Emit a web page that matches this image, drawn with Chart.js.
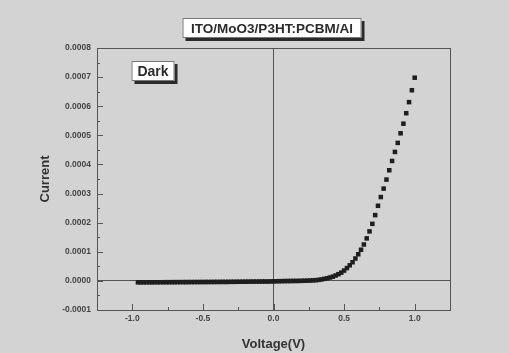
<!DOCTYPE html>
<html lang="en">
<head>
    <meta charset="UTF-8">
    <title>ITO/MoO3/P3HT:PCBM/Al</title>
    <script src="https://cdn.jsdelivr.net/npm/chart.js"></script>
    <style>
        html, body { margin: 0; padding: 0; background: #d3d3d3; }
        #chart { display: block; }
    </style>
</head>
<body>
    <canvas id="chart" width="509" height="353"></canvas>
    <script>
        const title = 'ITO/MoO3/P3HT:PCBM/Al';
        const tag = 'Dark';

        const voltage = [
            -0.96, -0.94, -0.92, -0.90, -0.88, -0.86, -0.84, -0.82, -0.80, -0.78,
            -0.76, -0.74, -0.72, -0.70, -0.68, -0.66, -0.64, -0.62, -0.60, -0.58,
            -0.56, -0.54, -0.52, -0.50, -0.48, -0.46, -0.44, -0.42, -0.40, -0.38,
            -0.36, -0.34, -0.32, -0.30, -0.28, -0.26, -0.24, -0.22, -0.20, -0.18,
            -0.16, -0.14, -0.12, -0.10, -0.08, -0.06, -0.04, -0.02, 0.00, 0.02,
            0.04, 0.06, 0.08, 0.10, 0.12, 0.14, 0.16, 0.18, 0.20, 0.22,
            0.24, 0.26, 0.28, 0.30, 0.32, 0.34, 0.36, 0.38, 0.40, 0.42,
            0.44, 0.46, 0.48, 0.50, 0.52, 0.54, 0.56, 0.58, 0.60, 0.62,
            0.64, 0.66, 0.68, 0.70, 0.72, 0.74, 0.76, 0.78, 0.80, 0.82,
            0.84, 0.86, 0.88, 0.90, 0.92, 0.94, 0.96, 0.98, 1.00
        ];
        // current in A
        const current = [
            -0.0000050, -0.0000050, -0.0000049, -0.0000049, -0.0000048, -0.0000048, -0.0000047, -0.0000047, -0.0000046, -0.0000046,
            -0.0000045, -0.0000045, -0.0000044, -0.0000044, -0.0000043, -0.0000043, -0.0000042, -0.0000042, -0.0000041, -0.0000041,
            -0.0000040, -0.0000040, -0.0000039, -0.0000039, -0.0000038, -0.0000038, -0.0000037, -0.0000037, -0.0000036, -0.0000036,
            -0.0000035, -0.0000035, -0.0000034, -0.0000033, -0.0000032, -0.0000031, -0.0000030, -0.0000029, -0.0000028, -0.0000027,
            -0.0000026, -0.0000025, -0.0000024, -0.0000023, -0.0000022, -0.0000021, -0.0000020, -0.0000018, -0.0000015, -0.0000012,
            -0.0000010, -0.0000008, -0.0000006, -0.0000005, -0.0000004, -0.0000003, -0.0000002, 0.0000000, 0.0000002, 0.0000005,
            0.0000008, 0.0000012, 0.0000018, 0.0000025, 0.0000035, 0.0000050, 0.0000070, 0.0000090, 0.0000115, 0.0000145,
            0.0000185, 0.0000230, 0.0000285, 0.0000355, 0.0000440, 0.0000535, 0.0000640, 0.0000770, 0.0000915, 0.0001070,
            0.0001250, 0.0001460, 0.0001700, 0.0001960, 0.0002260, 0.0002580, 0.0002880, 0.0003170, 0.0003480, 0.0003800,
            0.0004120, 0.0004430, 0.0004740, 0.0005070, 0.0005400, 0.0005760, 0.0006140, 0.0006550, 0.0006980
        ];

        const xTicks = [-1.0, -0.5, 0.0, 0.5, 1.0];
        const yTicks = [-0.0001, 0.0000, 0.0001, 0.0002, 0.0003, 0.0004, 0.0005, 0.0006, 0.0007, 0.0008];

        const points = voltage.map((v, i) => ({ x: v, y: current[i] }));
        const FONT = '"Liberation Sans", Arial, sans-serif';

        const frame = {
            id: 'frame',
            beforeDraw(chart) {
                const ctx = chart.ctx;
                ctx.save();
                ctx.fillStyle = '#d3d3d3';
                ctx.fillRect(0, 0, chart.width, chart.height);
                ctx.restore();
            },
            afterDatasetsDraw(chart) {
                const ctx = chart.ctx;
                const a = chart.chartArea;
                const xs = chart.scales.x, ys = chart.scales.y;
                ctx.save();
                ctx.strokeStyle = '#555';
                ctx.lineWidth = 1;
                ctx.strokeRect(a.left + 0.5, a.top + 0.5, a.right - a.left, a.bottom - a.top);

                // inward ticks, major and minor
                ctx.beginPath();
                xTicks.forEach((t, i) => {
                    const px = Math.round(xs.getPixelForValue(t)) + 0.5;
                    ctx.moveTo(px, a.bottom); ctx.lineTo(px, a.bottom - 6);
                    if (i < xTicks.length - 1) {
                        const m = Math.round(xs.getPixelForValue((t + xTicks[i + 1]) / 2)) + 0.5;
                        ctx.moveTo(m, a.bottom); ctx.lineTo(m, a.bottom - 3);
                    }
                });
                yTicks.forEach((t, i) => {
                    const py = Math.round(ys.getPixelForValue(t)) + 0.5;
                    ctx.moveTo(a.left, py); ctx.lineTo(a.left + 6, py);
                    if (i < yTicks.length - 1) {
                        const m = Math.round(ys.getPixelForValue((t + yTicks[i + 1]) / 2)) + 0.5;
                        ctx.moveTo(a.left, m); ctx.lineTo(a.left + 3, m);
                    }
                });
                ctx.stroke();

                // boxed labels with drop shadow
                const box = (text, cx, cy, w, h, size) => {
                    ctx.fillStyle = '#2a2a2a';
                    ctx.fillRect(cx - w / 2 + 3, cy - h / 2 + 3, w, h);
                    ctx.fillStyle = '#ffffff';
                    ctx.fillRect(cx - w / 2, cy - h / 2, w, h);
                    ctx.strokeStyle = '#777';
                    ctx.strokeRect(cx - w / 2 + 0.5, cy - h / 2 + 0.5, w - 1, h - 1);
                    ctx.fillStyle = '#2b2b2b';
                    ctx.font = 'bold ' + size + 'px ' + FONT;
                    ctx.textAlign = 'center';
                    ctx.textBaseline = 'middle';
                    ctx.fillText(text, cx, cy + 1);
                };
                box(title, 272, 28, 179, 20, 13.5);
                box(tag, 153, 71, 43, 20, 14);
                ctx.restore();
            }
        };

        new Chart(document.getElementById('chart'), {
            type: 'scatter',
            data: {
                datasets: [{
                    label: 'Dark',
                    data: points,
                    pointStyle: 'rect',
                    pointRadius: 3.2,
                    pointHoverRadius: 3.2,
                    backgroundColor: '#1e1e1e',
                    borderWidth: 0,
                    showLine: false
                }]
            },
            options: {
                responsive: false,
                animation: false,
                layout: { padding: { left: 0, top: 48, right: 59, bottom: 0 } },
                plugins: { legend: { display: false }, tooltip: { enabled: false } },
                scales: {
                    x: {
                        type: 'linear',
                        min: -1.25,
                        max: 1.25,
                        afterBuildTicks: s => { s.ticks = xTicks.map(v => ({ value: v })); },
                        afterFit: s => { s.height = 43; },
                        ticks: {
                            padding: 4,
                            color: '#444',
                            font: { family: FONT, size: 8.5, weight: 'bold' },
                            callback: v => v.toFixed(1)
                        },
                        grid: {
                            drawTicks: false,
                            color: c => (c.tick && c.tick.value === 0) ? '#555' : 'rgba(0,0,0,0)'
                        },
                        border: { display: false },
                        title: {
                            display: true,
                            text: 'Voltage(V)',
                            color: '#333',
                            padding: { top: 6, bottom: 1 },
                            font: { family: FONT, size: 13, weight: 'bold' }
                        }
                    },
                    y: {
                        type: 'linear',
                        min: -0.0001,
                        max: 0.0008,
                        afterBuildTicks: s => { s.ticks = yTicks.map(v => ({ value: v })); },
                        afterFit: s => { s.width = 97; },
                        ticks: {
                            padding: 6,
                            color: '#444',
                            font: { family: FONT, size: 8.5, weight: 'bold' },
                            callback: v => v.toFixed(4)
                        },
                        grid: {
                            drawTicks: false,
                            color: c => (c.tick && Math.abs(c.tick.value) < 1e-12) ? '#555' : 'rgba(0,0,0,0)'
                        },
                        border: { display: false },
                        title: {
                            display: true,
                            text: 'Current',
                            color: '#333',
                            padding: { top: 38, bottom: 38 },
                            font: { family: FONT, size: 13, weight: 'bold' }
                        }
                    }
                }
            },
            plugins: [frame]
        });
    </script>
</body>
</html>
